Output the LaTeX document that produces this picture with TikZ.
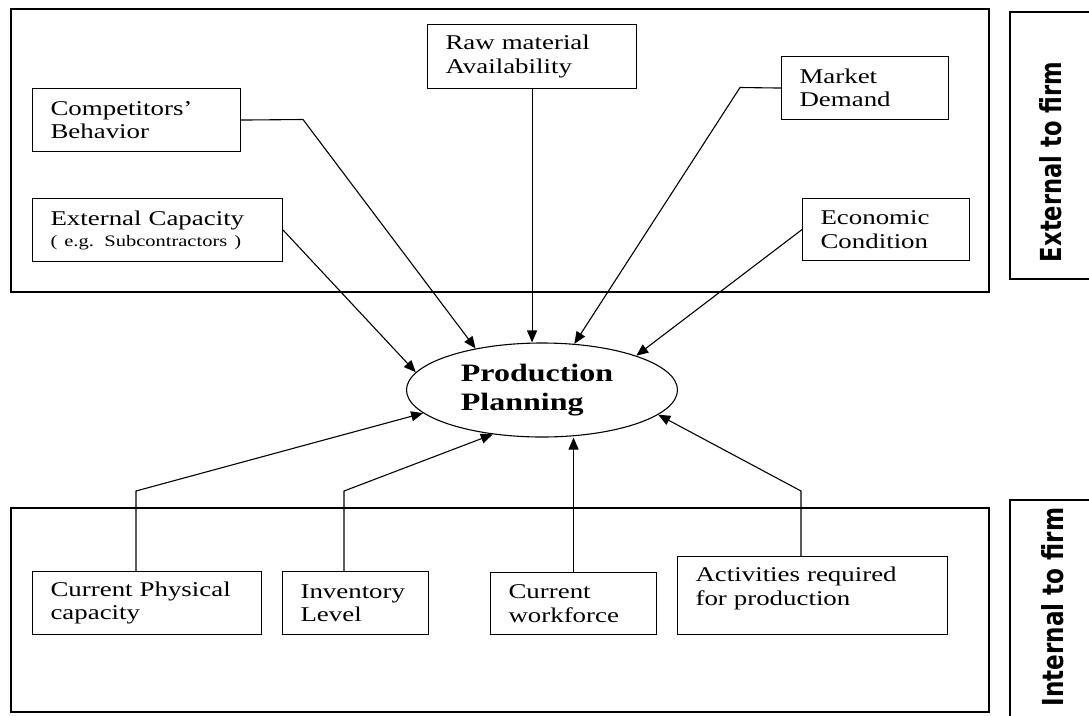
\documentclass[tikz,border=0pt]{standalone}
\usepackage{fontspec}
\setmainfont{Liberation Serif}[FakeStretch=1.28]
\newfontfamily\sidefont{DejaVu Sans Bold}
\usetikzlibrary{arrows.meta,shapes.geometric}

\begin{document}
\begin{tikzpicture}[x=1pt,y=-1pt,
  frame/.style={draw,line width=1.1pt},
  factor/.style={draw,line width=1.1pt,rectangle,anchor=north west,align=left,
    inner xsep=18pt,inner ysep=0pt,font=\fontsize{21}{23.5}\selectfont},
  boxsize/.style n args={3}{minimum width=#1pt,text width=#2pt,minimum height=#3pt},
  goal/.style={draw,line width=1.1pt,ellipse,inner sep=0pt,align=left,
    minimum width=271pt,minimum height=94pt,
    font=\bfseries\fontsize{25}{29}\selectfont},
  side/.style={rotate=90,inner sep=0pt},
  link/.style={line width=1.1pt,-{Triangle[length=12pt,width=10pt]}}
]
\useasboundingbox (0,0) rectangle (1089,715);

% environment frames
\draw[frame] (11,9) rectangle (989,292);
\draw[frame] (11,508) rectangle (989,712);
\draw[frame] (1010,12) rectangle (1091,279);
\draw[frame] (1010,500) rectangle (1091,720);
\node[side] (extlbl) at (1051,162)
  {\resizebox{200pt}{22pt}{\sidefont External to firm}};
\node[side] (intlbl) at (1053,607)
  {\resizebox{199pt}{22pt}{\sidefont Internal to firm}};

% central node
\node[goal] (plan) at (542,390) {Production\hspace*{10pt}\\Planning};

% external factors
\node[factor,boxsize={208}{172}{63}] (comp) at (32,88) {Competitors'\\Behavior};
\node[factor,boxsize={250}{214}{63}] (ext) at (32,198)
  {External Capacity\\[-2.5pt]{\fontsize{16}{18}\selectfont( e.g. Subcontractors )}};
\node[factor,boxsize={209}{173}{64}] (raw) at (427,24) {Raw material\\Availability};
\node[factor,boxsize={167}{131}{63}] (mkt) at (781,56) {Market\\Demand};
\node[factor,boxsize={167}{131}{62}] (eco) at (802,198) {Economic\\Condition};

% internal factors
\node[factor,boxsize={229}{193}{63}] (phys) at (32,571) {Current Physical\\capacity};
\node[factor,boxsize={146}{110}{63}] (inv) at (282,571) {Inventory\\Level};
\node[factor,boxsize={166}{130}{62}] (work) at (490,572) {Current\\workforce};
\node[factor,boxsize={270}{234}{78},text depth=42pt] (act) at (677,556)
  {Activities required\\for production};

% elbow points
\coordinate (compbend) at (303,119.5);
\coordinate (mktbend) at (740,87.5);
\coordinate (physbend) at (136,491);
\coordinate (invbend) at (344,491);
\coordinate (actbend) at (801,491);

% connectors into the planning node
\draw[link] (comp.east) -- (compbend) -- (plan.148);
\draw[link] (ext.east) -- (plan.172);
\draw[link] (raw.south) -- (raw.south |- plan.north);
\draw[link] (mkt.west) -- (mktbend) -- (plan.55);
\draw[link] (eco.west) -- (plan.20);
\draw[link] (phys.north -| physbend) -- (physbend) -- (plan.191);
\draw[link] (inv.north -| invbend) -- (invbend) -- (plan.222);
\draw[link] (work.north) -- (work.north |- plan.south);
\draw[link] (act.north -| actbend) -- (actbend) -- (plan.348);
\end{tikzpicture}
\end{document}
